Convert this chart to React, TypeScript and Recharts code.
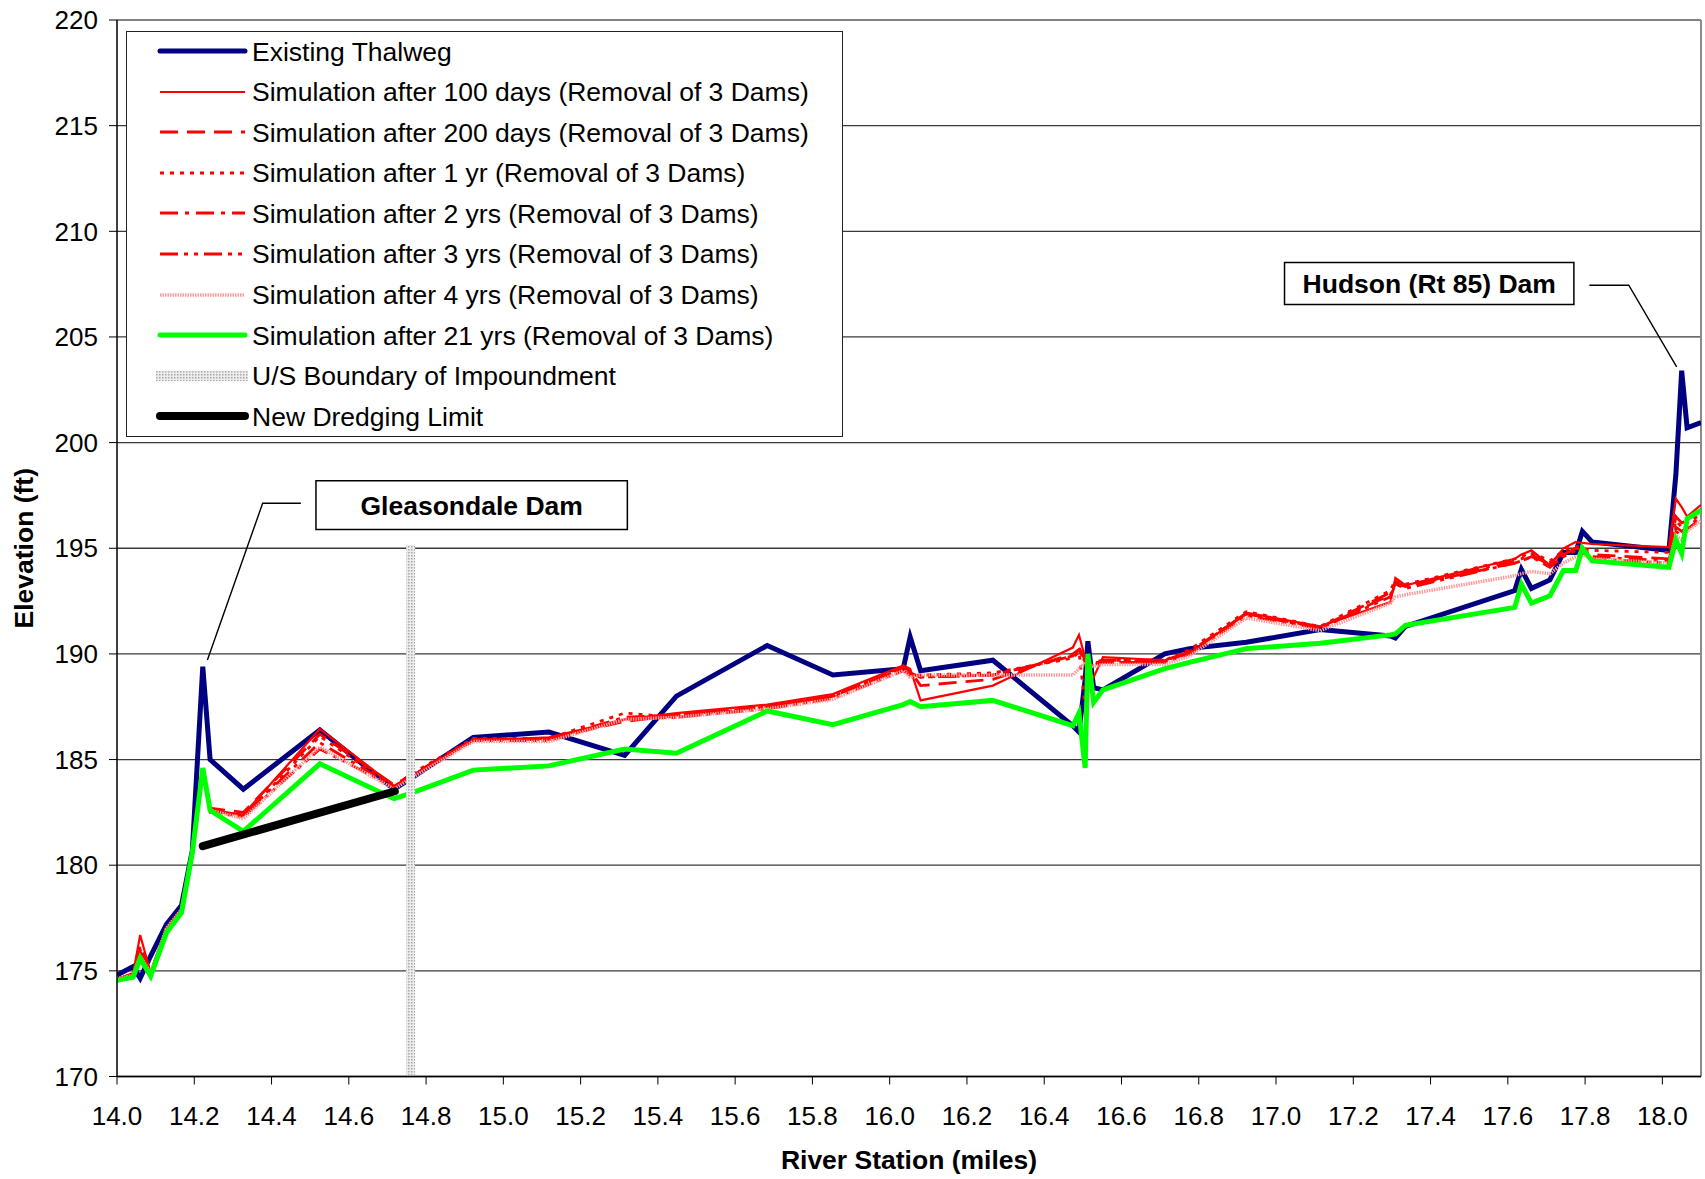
import React from 'react';
import { LineChart, Line, XAxis, YAxis, CartesianGrid, ReferenceArea, ReferenceLine } from 'recharts';

// river stations (miles) shared by every profile
const stations = [
  14.0, 14.042, 14.06, 14.087, 14.128, 14.167, 14.195, 14.222, 14.241, 14.327,
  14.525, 14.717, 14.76, 14.922, 15.118, 15.314, 15.448, 15.683, 15.853, 16.035,
  16.053, 16.08, 16.267, 16.474, 16.49, 16.506, 16.513, 16.528, 16.552, 16.712,
  16.776, 16.923, 17.114, 17.296, 17.309, 17.335, 17.618, 17.635, 17.661, 17.709,
  17.744, 17.776, 17.793, 17.818, 18.017, 18.035, 18.05, 18.064, 18.1,
];

const thalweg = [
  174.8, 175.2, 174.65, 175.7, 177.2, 178.1, 180.7, 189.4, 185.0, 183.6,
  186.4, 183.6, 184.1, 186.05, 186.3, 185.2, 188.0, 190.4, 189.0, 189.3,
  190.8, 189.2, 189.7, 186.6, 186.3, 188.8, 190.6, 188.4, 188.3, 190.0,
  190.25, 190.55, 191.15, 190.85, 190.75, 191.3, 193.0, 194.0, 193.1, 193.5,
  194.8, 194.8, 195.8, 195.3, 194.9, 198.5, 203.4, 200.7, 200.95,
];

const sim100d = [
  174.6, 174.9, 176.7, 174.9, 177.0, 177.9, 180.7, 184.5, 182.6, 182.4,
  186.45, 183.75, 184.2, 185.9, 186.05, 186.9, 187.2, 187.6, 188.1, 189.45,
  189.3, 187.8, 188.5, 190.3, 190.9, 189.8, 188.6, 188.9, 189.85, 189.7,
  190.0, 191.95, 191.3, 192.45, 193.6, 193.25, 194.5, 194.7, 194.9, 194.2,
  195.0, 195.3, 195.25, 195.2, 195.05, 197.35, 196.95, 196.5, 197.05,
];

const sim200d = [
  174.6, 174.85, 176.2, 174.9, 177.0, 177.9, 180.7, 184.5, 182.7, 182.5,
  186.2, 183.8, 184.25, 185.95, 186.0, 186.8, 187.1, 187.5, 188.0, 189.35,
  189.2, 188.5, 188.8, 190.0, 190.2, 189.6, 189.0, 189.6, 189.6, 189.6,
  190.1, 191.9, 191.25, 192.9, 193.3, 193.2, 194.3, 194.4, 194.6, 194.3,
  194.8, 195.0, 194.9, 194.7, 194.5, 196.5, 196.2, 196.3, 196.8,
];

const sim1yr = [
  174.6, 174.85, 176.0, 174.9, 177.0, 177.9, 180.7, 184.5, 182.5, 182.3,
  186.1, 183.7, 184.3, 186.0, 186.0, 187.2, 187.0, 187.5, 188.0, 189.4,
  189.0, 189.0, 189.1, 189.8, 190.1, 187.5, 189.2, 189.5, 189.7, 189.7,
  190.2, 192.0, 191.3, 193.0, 193.5, 193.3, 194.5, 194.6, 194.8, 194.4,
  194.9, 195.1, 195.0, 194.9, 194.8, 196.3, 196.0, 196.2, 196.6,
];

const sim2yr = [
  174.6, 174.85, 175.9, 174.9, 177.0, 177.9, 180.7, 184.5, 182.6, 182.35,
  185.8, 183.7, 184.2, 185.95, 185.95, 187.0, 187.1, 187.5, 188.0, 189.3,
  189.1, 188.9, 189.0, 189.9, 190.3, 189.7, 189.3, 189.6, 189.7, 189.7,
  190.1, 191.9, 191.2, 192.8, 193.4, 193.2, 194.4, 194.5, 194.7, 194.2,
  194.7, 195.0, 194.9, 194.6, 194.4, 196.0, 195.8, 196.0, 196.5,
];

const sim3yr = [
  174.6, 174.85, 175.8, 174.9, 177.0, 177.9, 180.7, 184.5, 182.6, 182.3,
  185.5, 183.7, 184.2, 185.9, 185.9, 186.9, 187.0, 187.4, 187.9, 189.2,
  189.0, 188.9, 189.0, 189.9, 190.2, 189.6, 189.3, 189.5, 189.6, 189.6,
  190.0, 191.8, 191.2, 192.7, 193.3, 193.1, 194.3, 194.4, 194.6, 194.1,
  194.6, 194.9, 194.8, 194.5, 194.3, 195.8, 195.6, 195.9, 196.4,
];

const sim4yr = [
  174.6, 174.8, 175.7, 174.9, 177.0, 177.9, 180.7, 184.5, 182.6, 182.2,
  185.6, 183.6, 184.1, 185.85, 185.85, 186.9, 187.0, 187.4, 187.85, 189.2,
  188.9, 189.0, 189.0, 189.0, 189.3, 189.6, 189.5, 189.4, 189.5, 189.5,
  189.9, 191.7, 191.1, 192.4, 192.7, 192.8, 193.7, 193.8, 193.9, 193.8,
  194.3, 194.6, 194.7, 194.5, 194.3, 195.6, 195.4, 195.8, 196.3,
];

const sim21yr = [
  174.55, 174.7, 175.6, 174.75, 176.8, 177.75, 180.6, 184.6, 182.6, 181.6,
  184.8, 183.15, 183.4, 184.5, 184.7, 185.5, 185.3, 187.3, 186.65, 187.6,
  187.75, 187.5, 187.8, 186.6, 187.2, 184.6, 190.0, 187.7, 188.3, 189.3,
  189.6, 190.25, 190.5, 190.9, 190.95, 191.35, 192.2, 193.3, 192.4, 192.75,
  193.95, 193.95, 195.0, 194.4, 194.1, 195.4, 194.75, 196.4, 196.8,
];

// U/S boundary of impoundment (vertical marker) and new dredging limit
const boundaryStation = 14.76;
const boundaryElev = [170, 195.15];
const dredgeStations = [14.222, 14.719];
const dredgeElev = [180.9, 183.5];

// callouts
const gleasonLeaderStations = [14.476, 14.377, 14.234];
const gleasonLeaderElev = [197.13, 197.13, 189.71];
const hudsonLeaderStations = [17.811, 17.913, 18.037];
const hudsonLeaderElev = [207.45, 207.45, 203.58];

const xTicks = [14.0, 14.2, 14.4, 14.6, 14.8, 15.0, 15.2, 15.4, 15.6, 15.8, 16.0, 16.2, 16.4, 16.6, 16.8, 17.0, 17.2, 17.4, 17.6, 17.8, 18.0];
const yTicks = [170, 175, 180, 185, 190, 195, 200, 205, 210, 215, 220];

const chartData = stations.map((s, i) => ({
  station: s,
  thalweg: thalweg[i],
  sim100d: sim100d[i],
  sim200d: sim200d[i],
  sim1yr: sim1yr[i],
  sim2yr: sim2yr[i],
  sim3yr: sim3yr[i],
  sim4yr: sim4yr[i],
  sim21yr: sim21yr[i],
}));
const boundaryData = boundaryElev.map(v => ({ station: boundaryStation, value: v }));
const dredgeData = dredgeStations.map((s, i) => ({ station: s, value: dredgeElev[i] }));
const gleasonLeader = gleasonLeaderStations.map((s, i) => ({ station: s, value: gleasonLeaderElev[i] }));
const hudsonLeader = hudsonLeaderStations.map((s, i) => ({ station: s, value: hudsonLeaderElev[i] }));

const FONT = 'Arial, "Liberation Sans", Helvetica, sans-serif';

const sims = [
  { key: 'sim100d', name: 'Simulation after 100 days (Removal of 3 Dams)', stroke: '#ff0000', width: 2.2, dash: undefined },
  { key: 'sim200d', name: 'Simulation after 200 days (Removal of 3 Dams)', stroke: '#ff0000', width: 2.8, dash: '18 9' },
  { key: 'sim1yr', name: 'Simulation after 1 yr (Removal of 3 Dams)', stroke: '#ff0000', width: 2.8, dash: '4 6' },
  { key: 'sim2yr', name: 'Simulation after 2 yrs (Removal of 3 Dams)', stroke: '#ff0000', width: 2.8, dash: '18 7 4 7' },
  { key: 'sim3yr', name: 'Simulation after 3 yrs (Removal of 3 Dams)', stroke: '#ff0000', width: 2.8, dash: '18 6 4 6 4 6' },
  { key: 'sim4yr', name: 'Simulation after 4 yrs (Removal of 3 Dams)', stroke: '#ff9a9a', width: 3.5, dash: '1.5 1' },
];

const YTitle = (props: any) => {
  const vb = props.viewBox || { x: 0, y: 20, width: 117, height: 1056 };
  const cx = vb.x + 24;
  const cy = vb.y + vb.height / 2;
  return (
    <text x={cx} y={cy} transform={`rotate(-90 ${cx} ${cy})`} textAnchor="middle" dominantBaseline="central"
      fontSize={26.5} fontWeight="bold" fill="#000" fontFamily={FONT}>
      Elevation (ft)
    </text>
  );
};

function LegendSample({ item }: { item: any }) {
  if (item.kind === 'band') {
    return (
      <svg width={96} height={40}>
        <defs>
          <pattern id="usHatchLegend" width="3" height="3" patternUnits="userSpaceOnUse">
            <rect width="3" height="3" fill="#ececec" />
            <rect width="1.5" height="1.5" fill="#a9a9a9" />
          </pattern>
        </defs>
        <rect x={0} y={15} width={92} height={10} fill="url(#usHatchLegend)" />
      </svg>
    );
  }
  return (
    <svg width={96} height={40}>
      <line x1={4} x2={89} y1={20} y2={20} stroke={item.stroke} strokeWidth={item.width}
        strokeDasharray={item.dash} strokeLinecap={item.round ? 'round' : 'butt'} />
    </svg>
  );
}

const legendItems = [
  { name: 'Existing Thalweg', stroke: '#000080', width: 5, round: true },
  ...sims.map(s => ({ name: s.name, stroke: s.stroke, width: s.width, dash: s.dash })),
  { name: 'Simulation after 21 yrs (Removal of 3 Dams)', stroke: '#00ff00', width: 5, round: true },
  { name: 'U/S Boundary of Impoundment', kind: 'band' },
  { name: 'New Dredging Limit', stroke: '#000000', width: 8, round: true },
];

export default function App() {
  return (
    <div style={{ position: 'absolute', left: 0, top: 0, width: 1705, height: 1179, background: '#fff', fontFamily: FONT }}>
      <LineChart width={1705} height={1179} data={chartData}
        margin={{ top: 20, right: 4, left: 0, bottom: 42.5 }}>
        <defs>
          <pattern id="usHatch" width="3" height="3" patternUnits="userSpaceOnUse">
            <rect width="3" height="3" fill="#ececec" />
            <rect width="1.5" height="1.5" fill="#a9a9a9" />
          </pattern>
        </defs>
        <CartesianGrid vertical={false} stroke="#3a3a3a" strokeWidth={1.3} />
        <XAxis dataKey="station" type="number" domain={[14, 18.1]} allowDataOverflow ticks={xTicks} interval={0}
          tickFormatter={(v: number) => v.toFixed(1)} height={60} tickSize={8} tickMargin={22}
          tick={{ fill: '#000', fontSize: 26, fontFamily: FONT }}
          axisLine={{ stroke: '#000', strokeWidth: 1.5 }} tickLine={{ stroke: '#000' }}
          label={{ value: 'River Station (miles)', position: 'bottom', offset: 14, fontSize: 26.5, fontWeight: 'bold', fill: '#000', fontFamily: FONT }} />
        <YAxis type="number" domain={[170, 220]} allowDataOverflow ticks={yTicks} interval={0} width={117}
          tickSize={8} tickMargin={11} tick={{ fill: '#000', fontSize: 26, fontFamily: FONT }}
          axisLine={{ stroke: '#000', strokeWidth: 1.5 }} tickLine={{ stroke: '#000' }}
          label={{ content: YTitle }} />
        <ReferenceLine y={220} stroke="#8a8a8a" strokeWidth={1.5} />
        <ReferenceLine x={18.1} stroke="#8a8a8a" strokeWidth={2} />

        <Line dataKey="thalweg" type="linear" stroke="#000080" strokeWidth={5} dot={false} activeDot={false} isAnimationActive={false} />
        {sims.map(s => (
          <Line key={s.key} dataKey={s.key} type="linear" stroke={s.stroke} strokeWidth={s.width}
            strokeDasharray={s.dash} dot={false} activeDot={false} isAnimationActive={false} />
        ))}
        <Line dataKey="sim21yr" type="linear" stroke="#00ff00" strokeWidth={5} dot={false} activeDot={false} isAnimationActive={false} />
        <Line data={dredgeData} dataKey="value" type="linear" stroke="#000" strokeWidth={8} strokeLinecap="round"
          dot={false} activeDot={false} isAnimationActive={false} />
        <Line data={boundaryData} dataKey="value" type="linear" stroke="url(#usHatch)" strokeWidth={9}
          dot={false} activeDot={false} isAnimationActive={false} />

        <Line data={gleasonLeader} dataKey="value" type="linear" stroke="#000" strokeWidth={1.4}
          dot={false} activeDot={false} isAnimationActive={false} />
        <Line data={hudsonLeader} dataKey="value" type="linear" stroke="#000" strokeWidth={1.4}
          dot={false} activeDot={false} isAnimationActive={false} />
        <ReferenceArea x1={14.515} x2={15.321} y1={195.89} y2={198.19} fill="#fff" fillOpacity={1}
          stroke="#000" strokeWidth={1.5}
          label={{ value: 'Gleasondale Dam', position: 'center', fontSize: 26.5, fontWeight: 'bold', fill: '#000', fontFamily: FONT }} />
        <ReferenceArea x1={17.022} x2={17.771} y1={206.53} y2={208.52} fill="#fff" fillOpacity={1}
          stroke="#000" strokeWidth={1.5}
          label={{ value: 'Hudson (Rt 85) Dam', position: 'center', fontSize: 26.5, fontWeight: 'bold', fill: '#000', fontFamily: FONT }} />
      </LineChart>

      <div style={{ position: 'absolute', left: 126, top: 31, width: 717, height: 406, border: '1.5px solid #222', background: '#fff', boxSizing: 'border-box' }}>
        {legendItems.map((it, i) => (
          <div key={it.name} style={{ position: 'absolute', left: 29, top: 19.2 + i * 40.55 - 20, height: 40, display: 'flex', alignItems: 'center', whiteSpace: 'nowrap' }}>
            <LegendSample item={it} />
            <span style={{ fontSize: 26.5, color: '#000', marginLeft: 0, paddingTop: 2 }}>{it.name}</span>
          </div>
        ))}
      </div>
    </div>
  );
}
